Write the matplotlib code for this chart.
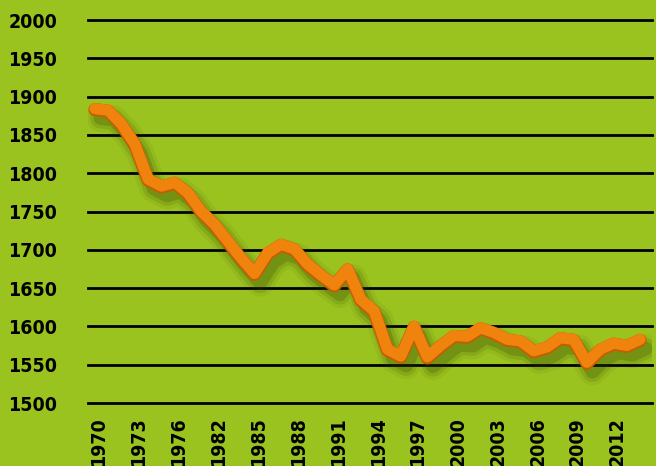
import matplotlib
matplotlib.use('Agg')
import matplotlib.pyplot as plt
import matplotlib.patheffects as pe
from matplotlib.transforms import ScaledTranslation

# years on a category axis (1979 is not in the series)
years = [1970, 1971, 1972, 1973, 1974, 1975, 1976, 1977, 1978,
         1982, 1983, 1984, 1985, 1986, 1987, 1988, 1989, 1990, 1991,
         1992, 1993, 1994, 1995, 1996, 1997, 1998, 1999, 2000, 2001,
         2002, 2003, 2004, 2005, 2006, 2007, 2008, 2009, 2010, 2011,
         2012, 2013, 2014]
values = [1883, 1881, 1863, 1837, 1791, 1782, 1787, 1773, 1749,
          1732, 1710, 1688, 1668, 1695, 1706, 1700, 1680, 1666, 1653,
          1674, 1634, 1619, 1569, 1560, 1599, 1559, 1574, 1587, 1586,
          1597, 1591, 1582, 1580, 1567, 1572, 1584, 1582, 1552, 1569,
          1577, 1574, 1582]
y_ticks = list(range(1500, 2001, 50))

bg = '#9BC31F'
orange = '#F0830E'

fig = plt.figure(figsize=(6.56, 4.66), dpi=100, facecolor=bg)
ax = fig.add_axes([0.134, 0.135, 0.86, 0.822], facecolor=bg)

for v in y_ticks:
    ax.axhline(v, color='black', lw=2.0, zorder=1, clip_on=False)

x = list(range(len(years)))
# soft drop shadow: a few stacked translucent strokes
effects = [pe.SimpleLineShadow(offset=(4, -6), shadow_color='#2a3800', alpha=0.07, linewidth=20),
           pe.SimpleLineShadow(offset=(4, -6), shadow_color='#2a3800', alpha=0.12, linewidth=15),
           pe.SimpleLineShadow(offset=(4, -6), shadow_color='#2a3800', alpha=0.2, linewidth=10),
           pe.Stroke(linewidth=9.5, foreground='#C45E00'),
           pe.Stroke(linewidth=8, foreground=orange, offset=(0, 0.7)),
           pe.Normal()]
ax.plot(x, values, color=orange, lw=6, solid_joinstyle='round', solid_capstyle='round',
        zorder=3, path_effects=effects)

tick_font = dict(family='DejaVu Sans', stretch='condensed', weight='bold', size=14)
ax.set_xlim(-0.53, 41.9)
ax.set_ylim(1500, 2000)
ax.set_yticks(y_ticks)
ax.set_yticklabels([str(v) for v in y_ticks], fontdict=tick_font)
ax.set_xticks(x[::3])
ax.set_xticklabels([str(years[i]) for i in x[::3]], rotation=90, fontdict=tick_font)
ax.tick_params(axis='y', length=0, pad=22)
ax.tick_params(axis='x', length=0, pad=10)
shift = ScaledTranslation(4 / 100, 0, fig.dpi_scale_trans)
for lab in ax.get_xticklabels():
    lab.set_transform(lab.get_transform() + shift)
for s in ax.spines.values():
    s.set_visible(False)

fig.savefig('out.png', dpi=100, facecolor=bg)
